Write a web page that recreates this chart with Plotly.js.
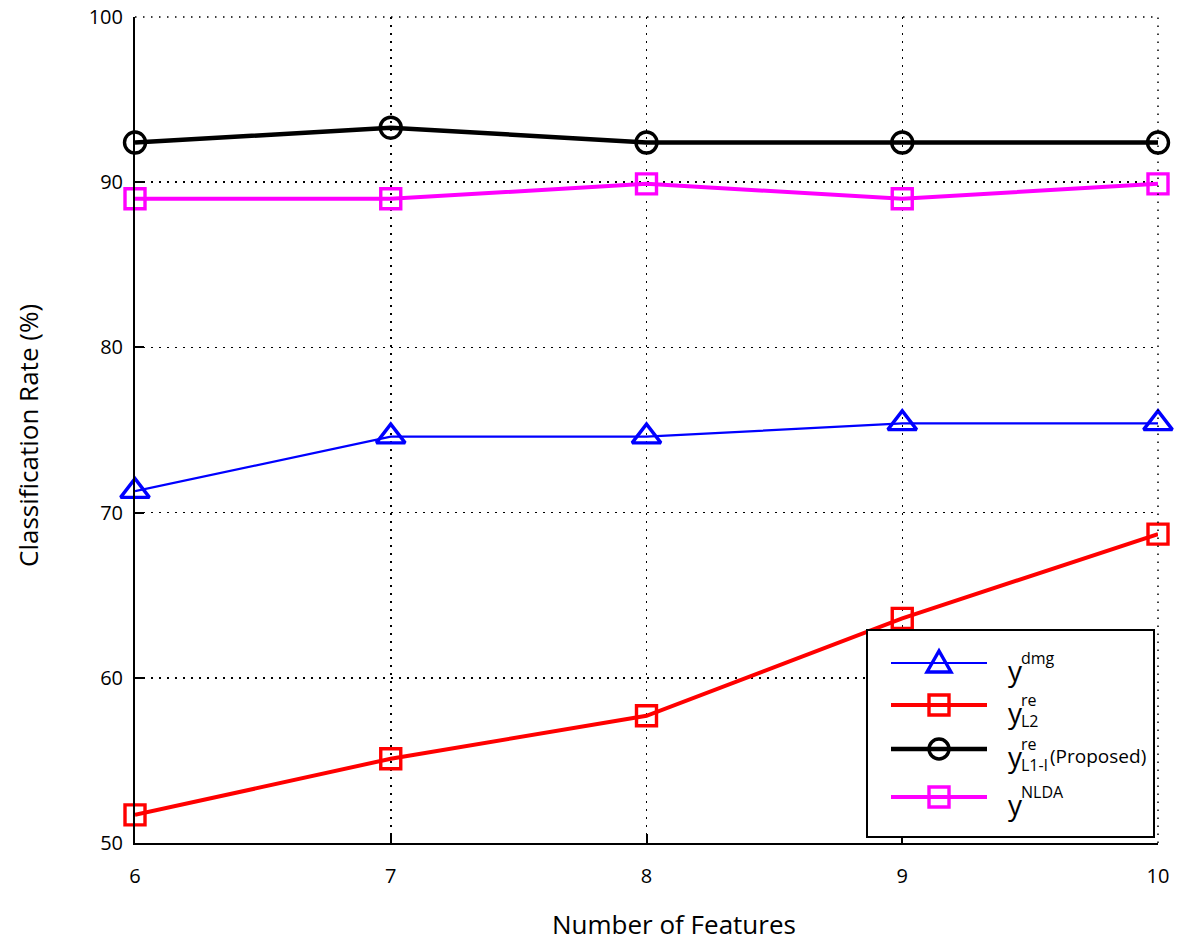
<!DOCTYPE html>
<html>
<head>
<meta charset="utf-8">
<script src="https://cdn.plot.ly/plotly-3.0.1.min.js"></script>
<style>html,body{margin:0;padding:0;background:#fff;}#chart{width:1194px;height:943px;}</style>
</head>
<body>
<div id="chart"></div>
<script>
const features = [6, 7, 8, 9, 10];
const yDmg = [71.3, 74.6, 74.6, 75.4, 75.4];
const yL2 = [51.7, 55.1, 57.7, 63.6, 68.7];
const yL1 = [92.4, 93.3, 92.4, 92.4, 92.4];
const yNLDA = [89.0, 89.0, 89.9, 89.0, 89.9];
const xTicks = [6, 7, 8, 9, 10];
const yTicks = [50, 60, 70, 80, 90, 100];
const xTitle = 'Number of Features';
const yTitle = 'Classification Rate (%)';
// legend labels: superscript, subscript, trailing text (base letter is "y")
const legSup = ['dmg', 're', 're', 'NLDA'];
const legSub = ['', 'L2', 'L1-l', ''];
const legTail = ['', '', '(Proposed)', ''];

const styles = [
  {color: '#0000ff', lw: 2.2, sym: 'triangle-up-open', ms: 25, shape: 'tri'},
  {color: '#ff0000', lw: 4, sym: 'square-open', ms: 20, shape: 'sq'},
  {color: '#000000', lw: 4.5, sym: 'circle-open', ms: 21, shape: 'circ'},
  {color: '#ff00ff', lw: 4, sym: 'square-open', ms: 20, shape: 'sq'}
];
const series = [yDmg, yL2, yL1, yNLDA];

const data = series.map((y, i) => ({
  x: features, y: y, type: 'scatter', mode: 'lines+markers', cliponaxis: false,
  showlegend: false, hoverinfo: 'skip',
  line: {color: styles[i].color, width: styles[i].lw},
  marker: {symbol: styles[i].sym, size: styles[i].ms, color: styles[i].color,
    line: {color: styles[i].color, width: 3.4}}
}));

// pixel-coordinate overlay axes for the hand-drawn legend
const L = 135, R = 1158, T = 17, B = 843;
const rowY = [663, 705, 749, 797];
const lineX0 = 891, lineX1 = 987, markX = 939, textX = 1006;

const shapes = [
  {type: 'line', xref: 'paper', yref: 'paper', x0: 0, x1: 1, y0: 1, y1: 1,
    line: {color: '#000', width: 1.5, dash: '1.5px,6.5px'}},
  {type: 'line', xref: 'paper', yref: 'paper', x0: 1, x1: 1, y0: 0, y1: 1,
    line: {color: '#000', width: 1.5, dash: '1.5px,6.5px'}},
  {type: 'rect', xref: 'x2', yref: 'y2', x0: 867, x1: 1154, y0: 630, y1: 837,
    line: {color: '#000', width: 2}, fillcolor: '#fff', layer: 'above'}
];
const annotations = [];
styles.forEach((s, i) => {
  const cy = rowY[i];
  shapes.push({type: 'line', xref: 'x2', yref: 'y2', x0: lineX0, x1: lineX1, y0: cy, y1: cy,
    line: {color: s.color, width: s.lw}, layer: 'above'});
  const mk = {xref: 'x2', yref: 'y2', layer: 'above', line: {color: s.color, width: 3.4}, fillcolor: 'rgba(0,0,0,0)'};
  if (s.shape === 'tri') {
    shapes.push(Object.assign({type: 'path',
      path: `M ${markX - 12} ${cy + 9} L ${markX + 12} ${cy + 9} L ${markX} ${cy - 12} Z`}, mk));
  } else if (s.shape === 'sq') {
    shapes.push(Object.assign({type: 'rect', x0: markX - 10, x1: markX + 10, y0: cy - 10, y1: cy + 10}, mk));
  } else {
    shapes.push(Object.assign({type: 'circle', x0: markX - 10, x1: markX + 10, y0: cy - 10, y1: cy + 10}, mk));
  }
  const yBase = cy + 7;
  annotations.push({xref: 'x2', yref: 'y2', x: textX, y: yBase, text: 'y', showarrow: false,
    xanchor: 'left', yanchor: 'middle', font: {size: 28}});
  annotations.push({xref: 'x2', yref: 'y2', x: textX + 13, y: yBase - 12, text: legSup[i], showarrow: false,
    xanchor: 'left', yanchor: 'middle', font: {size: 16}});
  if (legSub[i]) annotations.push({xref: 'x2', yref: 'y2', x: textX + 13, y: yBase + 9, text: legSub[i], showarrow: false,
    xanchor: 'left', yanchor: 'middle', font: {size: 16}});
  if (legTail[i]) annotations.push({xref: 'x2', yref: 'y2', x: 1048, y: yBase, text: legTail[i], showarrow: false,
    xanchor: 'left', yanchor: 'middle', font: {size: 19}});
});
annotations.push({xref: 'paper', yref: 'paper', x: (674 - L) / (R - L), y: (B - 924) / (B - T),
  text: xTitle, showarrow: false, xanchor: 'center', yanchor: 'middle', font: {size: 26}});
annotations.push({xref: 'paper', yref: 'paper', x: (28 - L) / (R - L), y: (B - 436) / (B - T),
  text: yTitle, showarrow: false, textangle: -90, xanchor: 'center', yanchor: 'middle', font: {size: 26}});

const font = 'Open Sans, Liberation Sans, sans-serif';
const layout = {
  width: 1194, height: 943,
  margin: {l: L, r: 1194 - R, t: T, b: 943 - B},
  paper_bgcolor: '#fff', plot_bgcolor: '#fff',
  font: {family: font, color: '#000', size: 20},
  showlegend: false,
  shapes: shapes, annotations: annotations,
  xaxis: {range: [6, 10], tickvals: xTicks, ticktext: xTicks.map(String),
    showline: true, linecolor: '#000', linewidth: 2,
    ticks: 'inside', ticklen: 9, tickwidth: 2, tickcolor: '#000',
    showgrid: true, gridcolor: '#000', griddash: '1.5px,6.5px', gridwidth: 1.5,
    zeroline: false, ticklabelstandoff: 14, tickfont: {size: 20}},
  yaxis: {range: [50, 100], tickvals: yTicks, ticktext: yTicks.map(String),
    showline: true, linecolor: '#000', linewidth: 2,
    ticks: 'inside', ticklen: 9, tickwidth: 2, tickcolor: '#000',
    showgrid: true, gridcolor: '#000', griddash: '1.5px,6.5px', gridwidth: 1.5,
    zeroline: false, ticklabelstandoff: 6, tickfont: {size: 20}},
  xaxis2: {range: [L, R], domain: [0, 1], overlaying: 'x', anchor: 'y2', visible: false, fixedrange: true},
  yaxis2: {range: [B, T], domain: [0, 1], overlaying: 'y', anchor: 'x2', visible: false, fixedrange: true}
};

Plotly.newPlot('chart', data, layout, {displayModeBar: false, staticPlot: true});
</script>
</body>
</html>
